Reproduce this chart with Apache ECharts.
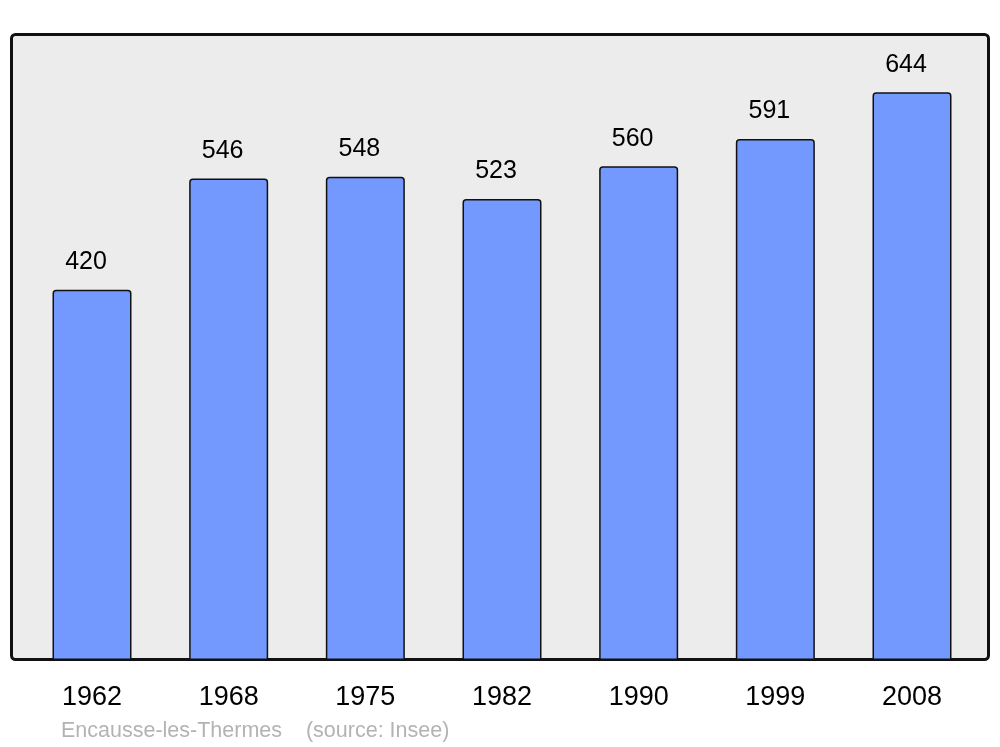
<!DOCTYPE html>
<html>
<head>
<meta charset="utf-8">
<script src="https://cdn.jsdelivr.net/npm/echarts@6/dist/echarts.min.js"></script>
<style>
  html, body { margin: 0; padding: 0; background: #fff; }
  #chart { width: 1000px; height: 747px; }
</style>
</head>
<body>
<div id="chart"></div>
<script>
// données population
const years = ['1962', '1968', '1975', '1982', '1990', '1999', '2008'];
const population = [420, 546, 548, 523, 560, 591, 644];
const sourceText = 'Encausse-les-Thermes    (source: Insee)';

const chart = echarts.init(document.getElementById('chart'), null, {renderer: 'canvas'});

chart.setOption({
    animation: false,
    textStyle: {fontFamily: 'Liberation Sans, Arial, sans-serif'},
    graphic: [
        {
            type: 'rect',
            z: -10,
            shape: {x: 11.5, y: 34.5, width: 977, height: 625, r: 4},
            style: {fill: '#ececec', stroke: '#111', lineWidth: 3}
        },
        {
            type: 'text',
            left: 61,
            top: 720,
            style: {
                text: sourceText,
                fill: '#b3b3b3',
                font: '21.5px "Liberation Sans", Arial, sans-serif'
            }
        }
    ],
    grid: {left: 23.67, right: 19.67, top: 34, bottom: 87},
    xAxis: {
        type: 'category',
        data: years,
        axisLine: {show: false},
        axisTick: {show: false},
        axisLabel: {color: '#000', fontSize: 27, margin: 24}
    },
    yAxis: {
        type: 'value',
        min: 0,
        max: 710,
        show: false,
        splitLine: {show: false}
    },
    series: [{
        type: 'bar',
        data: population,
        barWidth: 79,
        itemStyle: {
            color: '#7399ff',
            borderColor: '#111',
            borderWidth: 1.5,
            borderRadius: [3, 3, 0, 0]
        },
        label: {
            show: true,
            position: 'top',
            distance: 15,
            offset: [-6, 0],
            color: '#000',
            fontSize: 25
        }
    }]
});
</script>
</body>
</html>
